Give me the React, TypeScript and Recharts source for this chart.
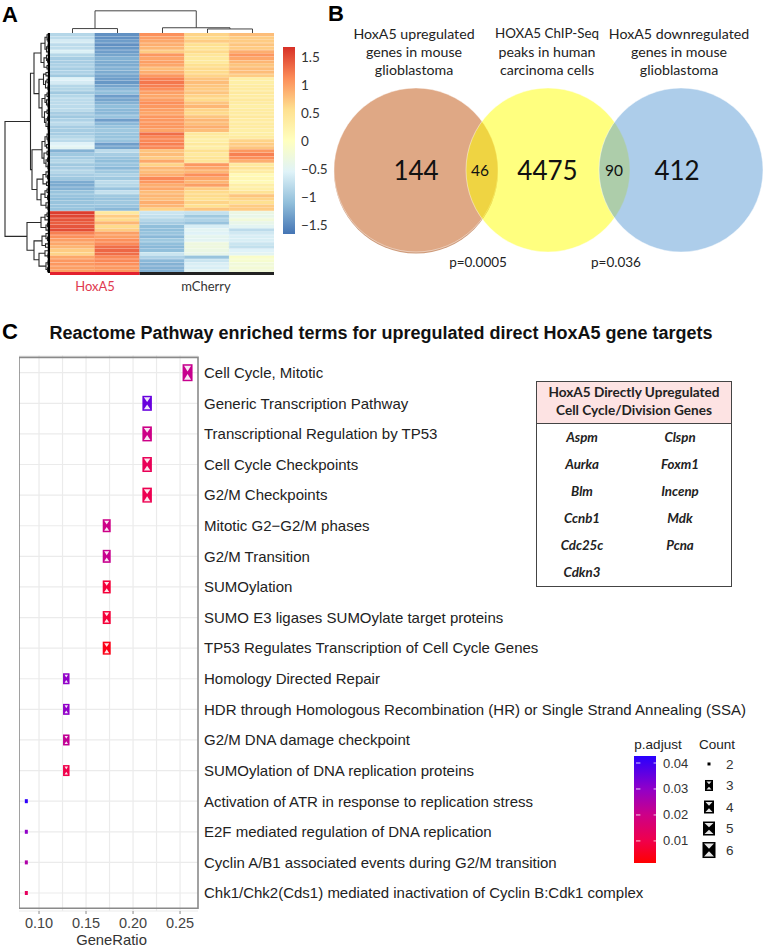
import {
  Bar,
  BarChart,
  CartesianGrid,
  Cell,
  Label,
  ReferenceArea,
  Scatter,
  ScatterChart,
  XAxis,
  YAxis,
} from "recharts";

// Panel A: z-scores per heatmap row, one list per sample
const hoxA5a = [
  -0.85, -0.8, -0.62, -0.8, -0.78, -0.58, -0.85, -0.95, -0.95, -0.9, -0.95, -0.9, -1.0, -0.55, -0.62, -0.85, -0.85, -1.0,
  -0.85, -0.8, -0.8, -0.8, -0.8, -0.95, -1.0, -0.9, -0.8, -0.95, -0.95, -0.95, -0.85, -0.8, -0.55, -0.5, -1.2, -1.0,
  -0.95, -0.85, -1.0, -0.95, -0.85, -0.95, -1.0, -1.25, -1.25, -1.2, -1.05, -1.05, -1.1, -1.05, -1.05, -1.05,
  1.6, 1.55, 1.45, 1.4, 1.45, 1.5, 1.2, 1.1, 1.0, 0.95, 0.85, 0.7, 0.65, 0.95, 1.05, 1.05, 1.0, 1.0,
];
const hoxA5b = [
  -1.45, -1.45, -1.35, -1.45, -1.4, -1.35, -1.3, -1.2, -1.25, -1.25, -1.2, -1.25, -1.3, -1.35, -1.4, -1.3, -1.15, -1.1,
  -1.35, -1.3, -1.2, -1.1, -1.15, -1.15, -1.05, -1.35, -1.15, -1.05, -1.0, -1.05, -1.05, -1.05, -1.35, -1.3, -0.8, -0.95,
  -1.05, -1.1, -1.05, -1.15, -1.0, -0.9, -1.0, -0.8, -0.85, -1.05, -0.75, -1.0, -1.05, -1.0, -1.05, -1.15,
  0.4, 0.7, 0.6, 0.85, 0.6, 0.7, 1.0, 1.0, 1.1, 1.15, 1.3, 1.35, 1.3, 1.15, 1.15, 1.1, 1.05, 1.05,
];
const mCherryA = [
  1.1, 1.0, 0.95, 0.9, 0.85, 0.7, 1.05, 0.95, 1.0, 0.95, 0.8, 0.9, 1.05, 1.2, 1.25, 1.2, 1.1, 1.0, 0.95, 1.0, 1.1, 1.05,
  1.0, 0.95, 1.05, 1.05, 1.05, 1.05, 0.95, 1.3, 1.15, 1.15, 1.2, 1.15, 0.75, 0.8, 0.7, 0.95, 0.65, 0.85, 0.8, 0.9, 1.15,
  1.05, 0.9, 0.95, 0.8, 0.85, 0.8, 0.9, 0.85, 0.65,
  -0.7, -0.75, -0.85, -0.95, -1.1, -1.1, -1.05, -1.15, -1.0, -1.1, -1.15, -1.1, -0.7, -0.9, -1.15, -1.2, -1.2, -1.2,
];
const mCherryB = [
  0.65, 0.6, 0.7, 0.55, 0.5, 0.6, 0.45, 0.4, 0.4, 0.55, 0.6, 0.6, 0.65, 0.75, 0.8, 0.75, 0.7, 0.75, 0.65, 0.6, 0.75, 0.85,
  0.65, 0.6, 0.75, 0.85, 0.8, 0.9, 0.8, 0.4, 0.35, 0.3, 0.4, 0.3, 0.55, 0.4, 0.5, 0.45, 1.05, 0.95, 0.85, 1.1, 0.95, 0.85,
  1.0, 0.7, 0.6, 0.6, 0.55, 0.65, 0.55, 0.75,
  -0.75, -1.0, -0.9, -1.05, -0.6, -0.5, -0.55, -0.45, -0.5, -0.3, -0.3, -0.35, -0.4, -1.05, -0.7, -0.6, -0.6, -0.5,
];
const mCherryC = [
  0.8, 0.7, 0.7, 0.75, 0.7, 0.9, 1.05, 0.95, 0.85, 0.75, 0.8, 0.8, 0.7, 0.3, 0.3, 0.35, 0.35, 0.4, 0.35, 0.4, 0.35, 0.3,
  0.35, 0.35, 0.4, 0.35, 0.35, 0.35, 0.3, 0.3, 0.35, 0.65, 0.7, 0.75, 1.05, 1.2, 1.1, 0.9, 0.4, 0.5, 0.35, 0.1, 0.15, 0.1,
  0.3, 0.3, 0.5, 0.75, 0.65, 0.55, 0.7, 0.7,
  -0.35, -0.4, -0.25, -0.4, -0.5, -0.8, -0.65, -0.6, -0.6, -0.7, -0.75, -0.55, -0.5, -0.1, -0.15, -0.25, -0.2, -0.25,
];
const heatColumns = [hoxA5a, hoxA5b, mCherryA, mCherryB, mCherryC];
const heatTicks = [-1.5, -1, -0.5, 0, 0.5, 1, 1.5];
const heatRange = [-1.66, 1.68];
const heatPalette = ["#4575B4", "#91BFDB", "#E0F3F8", "#FFFFBF", "#FEE090", "#FC8D59", "#D73027"];

// dendrograms as [height, left, right], a bare number is a leaf
type Tree = number | [number, Tree, Tree];
const columnTree: Tree = [5.5, [1.1, 0, 1], [1.3, 2, [1, 3, 4]]];
const rowTree: Tree = [
  45,
  [
    19.5,
    [
      16,
      [9, [5, [3, 0, [2, 1, 2]], [3.5, [2, 3, 4], 5]], [6, [3.5, 6, [2.5, 7, 8]], [3, 9, 10]]],
      [
        11,
        [6.5, [4, 11, 12], [4.5, [3, 13, 14], [2, 15, 16]]],
        [8, [5, [3, 17, 18], [3.5, 19, [2, 20, 21]]], [5.5, [3, 22, 23], [4, [2.5, 24, 25], [2, 26, [1.5, 27, 28]]]]],
      ],
    ],
    [
      18,
      [8, [5, [3, 29, [2, 30, 31]], [3.5, 32, 33]], [6, [3, 34, 35], [4, [2.5, 36, 37], [2, 38, 39]]]],
      [13, [7, [4, 40, [2.5, 41, 42]], [3.5, 43, 44]], [9, [5, [3, 45, 46], [2.5, 47, 48]], [4, 49, [2, 50, 51]]]],
    ],
  ],
  [
    23,
    [9, [5, [3, 52, 53], 54], [4, [2.5, 55, 56], 57]],
    [16, [8, [4, 58, [2.5, 59, 60]], [4.5, 61, 62]], [11, [5, 63, [2, 64, 65]], [4, [2, 66, 67], [2.5, 68, 69]]]],
  ],
];
const leafEdge = [
  { at: 0, h: 1 },
  { at: 70, h: 1 },
];

// Panel B
const vennCircles = [
  { name: "up", x: 91, fill: "#DFA885", rim: "#CF9B7A" },
  { name: "chip", x: 223, fill: "rgba(255,255,0,0.5)", rim: "none" },
  { name: "down", x: 356, fill: "rgba(91,155,213,0.5)", rim: "none" },
];
const vennCounts = [
  { x: 91, label: "144", big: true },
  { x: 155, label: "46", big: false },
  { x: 222.5, label: "4475", big: true },
  { x: 289, label: "90", big: false },
  { x: 352, label: "412", big: true },
];

// Panel C
const pathways = [
  "Cell Cycle, Mitotic",
  "Generic Transcription Pathway",
  "Transcriptional Regulation by TP53",
  "Cell Cycle Checkpoints",
  "G2/M Checkpoints",
  "Mitotic G2\u2212G2/M phases",
  "G2/M Transition",
  "SUMOylation",
  "SUMO E3 ligases SUMOylate target proteins",
  "TP53 Regulates Transcription of Cell Cycle Genes",
  "Homology Directed Repair",
  "HDR through Homologous Recombination (HR) or Single Strand Annealing (SSA)",
  "G2/M DNA damage checkpoint",
  "SUMOylation of DNA replication proteins",
  "Activation of ATR in response to replication stress",
  "E2F mediated regulation of DNA replication",
  "Cyclin A/B1 associated events during G2/M transition",
  "Chk1/Chk2(Cds1) mediated inactivation of Cyclin B:Cdk1 complex",
];
const geneRatio = [0.258, 0.215, 0.215, 0.215, 0.215, 0.172, 0.172, 0.172, 0.172, 0.172, 0.129, 0.129, 0.129, 0.129, 0.0865, 0.0865, 0.0865, 0.0865];
const counts = [6, 5, 5, 5, 5, 4, 4, 4, 4, 4, 3, 3, 3, 3, 2, 2, 2, 2];
const pAdjust = [0.021, 0.035, 0.02, 0.012, 0.011, 0.02, 0.021, 0.008, 0.008, 0.004, 0.03, 0.03, 0.022, 0.01, 0.042, 0.03, 0.025, 0.013];
const ratioTicks = [0.1, 0.15, 0.2, 0.25];
const ratioMinor = [0.125, 0.175, 0.225];
const ratioDomain = [0.0787, 0.2691];
const pTicks = [0.01, 0.02, 0.03, 0.04];
const pRange = [0.0015, 0.0427];
const pPalette = [
  { p: 0.0015, rgb: [255, 0, 0] },
  { p: 0.01, rgb: [240, 0, 75] },
  { p: 0.02, rgb: [205, 0, 135] },
  { p: 0.03, rgb: [145, 0, 200] },
  { p: 0.0427, rgb: [40, 0, 255] },
];
const countLevels = [2, 3, 4, 5, 6];

// Gene table
const genesLeft = ["Aspm", "Aurka", "Blm", "Ccnb1", "Cdc25c", "Cdkn3"];
const genesRight = ["Clspn", "Foxm1", "Incenp", "Mdk", "Pcna"];

const ARIAL = "'Liberation Sans', Arial, sans-serif";
const CALIBRI = "Lato, 'Open Sans', sans-serif";

const plotSize: Record<number, [number, number]> = { 2: [3, 4], 3: [6.5, 11], 4: [8, 13], 5: [9.5, 15], 6: [10, 17] };
const legendSize: Record<number, [number, number]> = { 2: [3, 3], 3: [8, 11], 4: [10, 13], 5: [12, 14], 6: [13, 16] };

const hex = (c: number) => Math.round(c).toString(16).padStart(2, "0");

function heatColor(z: number) {
  const t = ((z - heatRange[0]) / (heatRange[1] - heatRange[0])) * (heatPalette.length - 1);
  const i = Math.max(0, Math.min(heatPalette.length - 2, Math.floor(t)));
  const a = heatPalette[i];
  const b = heatPalette[i + 1];
  const mix = (o: number) => {
    const ca = parseInt(a.slice(o, o + 2), 16);
    const cb = parseInt(b.slice(o, o + 2), 16);
    return hex(ca + (cb - ca) * (t - i));
  };
  return `#${mix(1)}${mix(3)}${mix(5)}`;
}

function pColor(p: number) {
  let i = 0;
  while (i < pPalette.length - 2 && p > pPalette[i + 1].p) i++;
  const a = pPalette[i];
  const b = pPalette[i + 1];
  const t = (p - a.p) / (b.p - a.p);
  return `rgb(${a.rgb.map((c, k) => Math.round(c + (b.rgb[k] - c) * t)).join(",")})`;
}

// walks a dendrogram and returns one 4 point path per merge
function treePaths(node: Tree, out: { at: number; h: number }[][] = []) {
  if (typeof node === "number") return { at: node + 0.5, h: 0, out };
  const [h, l, r] = node;
  const a = treePaths(l, out);
  const b = treePaths(r, out);
  out.push([
    { at: a.at, h: a.h },
    { at: a.at, h },
    { at: b.at, h },
    { at: b.at, h: b.h },
  ]);
  return { at: (a.at + b.at) / 2, h, out };
}

const heatRows = heatColumns[0].map((_, r) => ({
  row: r,
  w0: 1,
  w1: 1,
  w2: 1,
  w3: 1,
  w4: 1,
}));
const pathwayRows = pathways.map((term, i) => ({
  term,
  ratio: geneRatio[i],
  count: counts[i],
  p: pAdjust[i],
}));

const noDot = () => <g />;

function Glyph({ cx, cy, size, fill }: { cx: number; cy: number; size: [number, number]; fill: string }) {
  const [w, h] = size;
  const l = cx - w / 2;
  const t = cy - h / 2;
  const showCross = h > 5;
  return (
    <g>
      <rect x={l} y={t} width={w} height={h} fill={fill} />
      {showCross && (
        <>
          <polygon
            points={`${l + 1.5},${t + 1.5} ${l + w - 1.5},${t + 1.5} ${cx},${cy - 1.2}`}
            fill="#fff"
            fillOpacity={0.9}
          />
          <polygon
            points={`${l + 1.5},${t + h - 1.5} ${l + w - 1.5},${t + h - 1.5} ${cx},${cy + 1.2}`}
            fill="#fff"
            fillOpacity={0.9}
          />
        </>
      )}
    </g>
  );
}

function Txt({
  x,
  y,
  children,
  size = 14,
  color = "#222",
  font = CALIBRI,
  weight = 400,
  italic = false,
}: {
  x: number;
  y: number;
  children: React.ReactNode;
  size?: number;
  color?: string;
  font?: string;
  weight?: number;
  italic?: boolean;
}) {
  return (
    <div
      style={{
        position: "absolute",
        left: x,
        top: y,
        transform: "translate(-50%, -50%)",
        whiteSpace: "nowrap",
        fontSize: size,
        color,
        fontFamily: font,
        fontWeight: weight,
        fontStyle: italic ? "italic" : "normal",
        lineHeight: 1,
      }}
    >
      {children}
    </div>
  );
}

function at(left: number, top: number): React.CSSProperties {
  return { position: "absolute", left, top };
}

function Heatmap() {
  const rowPaths = treePaths(rowTree).out;
  const colPaths = treePaths(columnTree).out;
  return (
    <>
      <div style={at(4, 33)}>
        <ScatterChart width={46} height={240} margin={{ top: 0, right: 0, bottom: 0, left: 0 }}>
          <XAxis type="number" dataKey="h" domain={[0, 46]} reversed hide />
          <YAxis type="number" dataKey="at" domain={[0, 70]} reversed hide />
          {rowPaths.map((path, i) => (
            <Scatter
              key={i}
              data={path}
              line={{ stroke: "#2a2a2a", strokeWidth: 1.1 }}
              shape={noDot}
              isAnimationActive={false}
            />
          ))}
          <Scatter
            data={leafEdge}
            line={{ stroke: "#000", strokeWidth: 2.5 }}
            shape={noDot}
            isAnimationActive={false}
          />
        </ScatterChart>
      </div>
      <div style={at(50, 8)}>
        <ScatterChart width={225} height={25} margin={{ top: 0, right: 0, bottom: 0, left: 0 }}>
          <XAxis type="number" dataKey="at" domain={[0, 5]} hide />
          <YAxis type="number" dataKey="h" domain={[0, 6.2]} hide />
          {colPaths.map((path, i) => (
            <Scatter
              key={i}
              data={path}
              line={{ stroke: "#444", strokeWidth: 1 }}
              shape={noDot}
              isAnimationActive={false}
            />
          ))}
        </ScatterChart>
      </div>
      <div style={{ ...at(50, 33), filter: "blur(0.6px)" }}>
        <BarChart
          width={224}
          height={240}
          data={heatRows}
          layout="vertical"
          barCategoryGap={0}
          margin={{ top: 0, right: 0, bottom: 0, left: 0 }}
        >
          <XAxis type="number" domain={[0, 5]} hide />
          <YAxis type="category" dataKey="row" hide />
          {heatColumns.map((col, c) => (
            <Bar key={c} dataKey={`w${c}`} stackId="heat" isAnimationActive={false}>
              {col.map((z, r) => (
                <Cell key={r} fill={heatColor(z)} stroke={heatColor(z)} strokeWidth={0.3} />
              ))}
            </Bar>
          ))}
        </BarChart>
      </div>
      <div style={at(50, 272)}>
        <BarChart
          width={224}
          height={3}
          data={[{ hox: 2, cherry: 3 }]}
          layout="vertical"
          barCategoryGap={0}
          margin={{ top: 0, right: 0, bottom: 0, left: 0 }}
        >
          <XAxis type="number" domain={[0, 5]} hide />
          <YAxis type="category" hide />
          <Bar dataKey="hox" stackId="a" fill="#E3202E" isAnimationActive={false} />
          <Bar dataKey="cherry" stackId="a" fill="#222" isAnimationActive={false} />
        </BarChart>
      </div>
      <Txt x={95} y={286} size={13} color="#E0394F">
        HoxA5
      </Txt>
      <Txt x={206} y={286} size={13} color="#333">
        mCherry
      </Txt>
      <div style={at(283, 47)}>
        <BarChart
          width={50}
          height={187}
          data={[{ span: heatRange }]}
          barCategoryGap={0}
          margin={{ top: 0, right: 0, bottom: 0, left: 0 }}
        >
          <defs>
            <linearGradient id="heatBar" x1="0" y1="1" x2="0" y2="0">
              {heatPalette.map((c, i) => (
                <stop key={c} offset={i / (heatPalette.length - 1)} stopColor={c} />
              ))}
            </linearGradient>
          </defs>
          <XAxis hide />
          <YAxis
            orientation="right"
            width={38}
            type="number"
            domain={heatRange}
            ticks={heatTicks}
            interval={0}
            axisLine={false}
            tickSize={0}
            tickMargin={6}
            tickFormatter={(v: number) => String(v).replace("-", "\u2212")}
            tick={{ fontSize: 13.5, fill: "#333", fontFamily: CALIBRI }}
          />
          <Bar dataKey="span" fill="url(#heatBar)" isAnimationActive={false} />
        </BarChart>
      </div>
    </>
  );
}

function Venn() {
  return (
    <>
      <Txt x={414} y={34} size={14.2}>HoxA5 upregulated</Txt>
      <Txt x={414} y={52} size={14.2}>genes in mouse</Txt>
      <Txt x={414} y={70} size={14.2}>glioblastoma</Txt>
      <Txt x={547} y={34} size={13.4}>HOXA5 ChIP-Seq</Txt>
      <Txt x={547} y={52} size={14.2}>peaks in human</Txt>
      <Txt x={547} y={70} size={14.2}>carcinoma cells</Txt>
      <Txt x={679} y={34} size={14.2}>HoxA5 downregulated</Txt>
      <Txt x={679} y={52} size={14.2}>genes in mouse</Txt>
      <Txt x={679} y={70} size={14.2}>glioblastoma</Txt>
      <div style={at(325, 84)}>
        <ScatterChart width={441} height={172} margin={{ top: 0, right: 0, bottom: 0, left: 0 }}>
          <XAxis type="number" dataKey="x" domain={[0, 441]} hide />
          <YAxis type="number" dataKey="y" domain={[0, 172]} reversed hide />
          <Scatter
            data={vennCircles.map((c) => ({ ...c, y: 86 }))}
            isAnimationActive={false}
            shape={(p: any) => (
              <g>
                {p.payload.rim !== "none" && <circle cx={p.cx} cy={p.cy + 1.5} r={82} fill={p.payload.rim} />}
                <circle
                  cx={p.cx}
                  cy={p.cy}
                  r={82}
                  fill={p.payload.fill}
                  stroke="rgba(255,255,255,0.45)"
                  strokeWidth={1}
                />
              </g>
            )}
          />
          <Scatter
            data={vennCounts.map((c) => ({ ...c, y: 86 }))}
            isAnimationActive={false}
            shape={(p: any) => (
              <text
                x={p.cx}
                y={p.cy}
                textAnchor="middle"
                dominantBaseline="central"
                fontFamily={CALIBRI}
                fontSize={p.payload.big ? 26 : 15.5}
                fill="#111"
              >
                {p.payload.label}
              </text>
            )}
          />
        </ScatterChart>
      </div>
      <Txt x={478} y={263} size={13.5}>p=0.0005</Txt>
      <Txt x={616} y={263} size={13.5}>p=0.036</Txt>
    </>
  );
}

function DotPlot() {
  return (
    <div style={at(19, 355)}>
      <ScatterChart width={747} height={594} margin={{ top: 0, right: 0, bottom: 0, left: 0 }}>
        <CartesianGrid
          stroke="#ebebeb"
          strokeWidth={1.2}
          verticalValues={[...ratioTicks, ...ratioMinor]}
        />
        <ReferenceArea
          x1={ratioDomain[0]}
          x2={ratioDomain[1]}
          fill="none"
          stroke="#8a8a8a"
          strokeWidth={1.6}
          ifOverflow="visible"
        />
        <XAxis
          type="number"
          dataKey="ratio"
          domain={ratioDomain}
          ticks={ratioTicks}
          interval={0}
          height={38}
          axisLine={false}
          tickSize={3}
          tickMargin={4}
          tickFormatter={(v: number) => v.toFixed(2)}
          tickLine={{ stroke: "#8a8a8a" }}
          tick={{ fontSize: 14.5, fill: "#444", fontFamily: ARIAL }}
        >
          <Label value="GeneRatio" position="insideBottom" offset={4} dx={3} fontSize={14.8} fill="#333" fontFamily={ARIAL} />
        </XAxis>
        <YAxis
          type="category"
          dataKey="term"
          orientation="right"
          width={568}
          reversed
          allowDuplicatedCategory={false}
          interval={0}
          axisLine={false}
          tickLine={false}
          tickSize={0}
          tickMargin={6}
          padding={{ top: 2.4, bottom: 2.7 }}
          tick={{ fontSize: 15, fill: "#222", fontFamily: ARIAL }}
        />
        <Scatter
          data={pathwayRows}
          isAnimationActive={false}
          shape={(p: any) => (
            <Glyph cx={p.cx} cy={p.cy} size={plotSize[p.payload.count]} fill={pColor(p.payload.p)} />
          )}
        />
      </ScatterChart>
    </div>
  );
}

function Legends() {
  return (
    <>
      <Txt x={658} y={745} size={13.5} font={ARIAL}>p.adjust</Txt>
      <Txt x={717} y={745} size={13.5} font={ARIAL}>Count</Txt>
      <div style={at(634, 756)}>
        <BarChart
          width={60}
          height={107}
          data={[{ span: pRange }]}
          barCategoryGap={0}
          margin={{ top: 0, right: 0, bottom: 0, left: 0 }}
        >
          <defs>
            <linearGradient id="pBar" x1="0" y1="1" x2="0" y2="0">
              {pPalette.map((s) => (
                <stop
                  key={s.p}
                  offset={(s.p - pRange[0]) / (pRange[1] - pRange[0])}
                  stopColor={`rgb(${s.rgb.join(",")})`}
                />
              ))}
            </linearGradient>
          </defs>
          <XAxis hide />
          <Bar dataKey="span" fill="url(#pBar)" isAnimationActive={false} />
          <YAxis
            orientation="right"
            width={38}
            type="number"
            domain={pRange}
            ticks={pTicks}
            interval={0}
            axisLine={false}
            tickLine={false}
            tickSize={0}
            tick={(p: any) => (
              <g>
                <line x1={p.x - 22} x2={p.x - 17.6} y1={p.y} y2={p.y} stroke="#fff" strokeOpacity={0.8} />
                <line x1={p.x - 4.4} x2={p.x} y1={p.y} y2={p.y} stroke="#fff" strokeOpacity={0.8} />
                <text x={p.x + 5} y={p.y} dominantBaseline="central" fontSize={13} fill="#333" fontFamily={ARIAL}>
                  {Number(p.payload.value).toFixed(2)}
                </text>
              </g>
            )}
          />
        </BarChart>
      </div>
      <div style={at(700, 753)}>
        <ScatterChart width={50} height={108} margin={{ top: 0, right: 0, bottom: 0, left: 0 }}>
          <XAxis type="number" dataKey="x" domain={[0, 1]} hide />
          <YAxis
            type="number"
            dataKey="count"
            orientation="right"
            width={32}
            domain={[1.49, 6.51]}
            ticks={countLevels}
            interval={0}
            reversed
            axisLine={false}
            tickLine={false}
            tickSize={0}
            tickMargin={8}
            tick={{ fontSize: 13.5, fill: "#333", fontFamily: ARIAL }}
          />
          <Scatter
            data={countLevels.map((count) => ({ count, x: 0.5 }))}
            isAnimationActive={false}
            shape={(p: any) => <Glyph cx={p.cx} cy={p.cy} size={legendSize[p.payload.count]} fill="#000" />}
          />
        </ScatterChart>
      </div>
    </>
  );
}

function GeneTable() {
  const rowY = (i: number) => 437.5 + i * 27;
  return (
    <>
      <div
        style={{
          ...at(536, 381),
          width: 194,
          height: 204,
          border: "1.5px solid #444",
          background: "#fff",
        }}
      >
        <div style={{ height: 41, background: "#FDE3E3", borderBottom: "1.5px solid #444" }} />
      </div>
      <Txt x={634} y={393} size={13.6} weight={700}>HoxA5 Directly Upregulated</Txt>
      <Txt x={634} y={411} size={13.6} weight={700}>Cell Cycle/Division Genes</Txt>
      {genesLeft.map((g, i) => (
        <Txt key={g} x={582} y={rowY(i)} size={13.3} weight={700} italic>
          {g}
        </Txt>
      ))}
      {genesRight.map((g, i) => (
        <Txt key={g} x={680} y={rowY(i)} size={13.3} weight={700} italic>
          {g}
        </Txt>
      ))}
    </>
  );
}

export default function App() {
  return (
    <div style={{ position: "absolute", left: 0, top: 0, width: 766, height: 949, background: "#fff", overflow: "hidden" }}>
      <Txt x={10} y={15} size={22} weight={700} font={ARIAL} color="#000">A</Txt>
      <Txt x={336} y={14} size={22} weight={700} font={ARIAL} color="#000">B</Txt>
      <Txt x={10} y={332} size={22} weight={700} font={ARIAL} color="#000">C</Txt>
      <Txt x={381} y={333} size={18} weight={700} font={ARIAL} color="#111">
        Reactome Pathway enriched terms for upregulated direct HoxA5 gene targets
      </Txt>
      <Heatmap />
      <Venn />
      <DotPlot />
      <Legends />
      <GeneTable />
    </div>
  );
}
